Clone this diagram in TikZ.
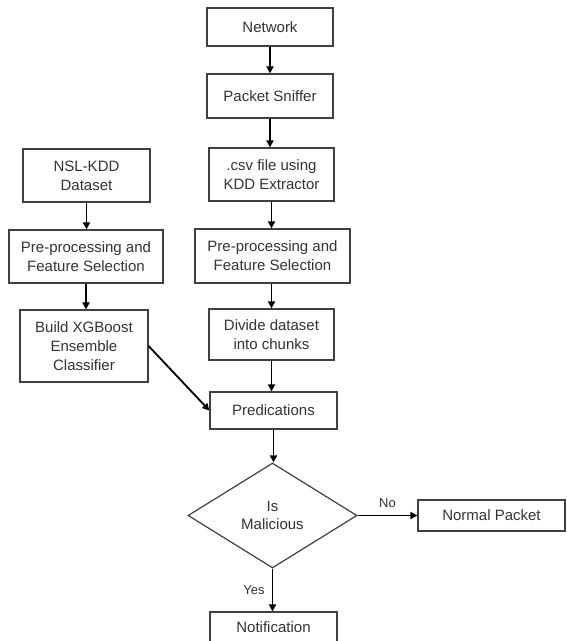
\documentclass[tikz,border=0pt]{standalone}
\usepackage{fontspec}
\setmainfont{Liberation Sans}
\usetikzlibrary{shapes.geometric,arrows.meta}
\definecolor{boxgray}{HTML}{404040}
\definecolor{textgray}{HTML}{333333}
\begin{document}
\begin{tikzpicture}[x=1pt,y=-1pt,
  box/.style={draw=boxgray, line width=1.2pt, fill=white, align=center, inner sep=0pt, text=textgray, font=\fontsize{15}{19}\selectfont},
  dia/.style={diamond, draw=boxgray, line width=1.2pt, align=center, inner sep=0pt, text=textgray, font=\fontsize{15}{18}\selectfont},
  arr/.style={line width=1.8pt, -{Triangle[length=7pt,width=7pt]}},
  lbl/.style={text=textgray, inner sep=0pt, font=\fontsize{13}{15}\selectfont}]
\clip (0,0) rectangle (566,641);
\fill[white] (0,0) rectangle (566,641);
% right column
\node[box, minimum width=126pt, minimum height=38pt] (net) at (270,27) {Network};
\node[box, minimum width=126pt, minimum height=44pt] (sniff) at (270,96) {Packet Sniffer};
\node[box, minimum width=125pt, minimum height=53pt] (csv) at (271.5,174.5) {.csv file using\\KDD Extractor};
\node[box, minimum width=155pt, minimum height=54pt] (rpre) at (272.5,256) {Pre-processing and\\Feature Selection};
\node[box, minimum width=125pt, minimum height=51pt] (div) at (271.5,334.5) {Divide dataset\\into chunks};
\node[box, minimum width=127pt, minimum height=37pt] (pred) at (273.5,410.5) {Predications};
% left column
\node[box, minimum width=127pt, minimum height=53pt] (nsl) at (86.5,175.5) {NSL-KDD\\Dataset};
\node[box, minimum width=154pt, minimum height=53pt] (lpre) at (86,256.5) {Pre-processing and\\Feature Selection};
\node[box, minimum width=128pt, minimum height=72pt] (xgb) at (84,346) {Build XGBoost\\Ensemble\\Classifier};
% decision
\node[dia, minimum width=169pt, minimum height=105pt] (mal) at (272.5,515.5) {Is\\Malicious};
\node[box, minimum width=147pt, minimum height=31pt] (norm) at (491.5,515.5) {Normal Packet};
\node[box, minimum width=127pt, minimum height=30pt] (notif) at (273.5,627) {Notification};
% connectors
\draw[arr] (net.south) -- (net.south |- sniff.north);
\draw[arr] (sniff.south) -- (sniff.south |- csv.north);
\draw[arr] (csv.south) -- (csv.south |- rpre.north);
\draw[arr] (div.north |- rpre.south) -- (div.north);
\draw[arr] (div.south) -- (div.south |- pred.north);
\draw[arr] (nsl.south) -- (nsl.south |- lpre.north);
\draw[arr] (lpre.south) -- (lpre.south |- xgb.north);
\draw[arr] (xgb.east) -- (pred.west);
\draw[arr] (pred.south) -- (pred.south |- mal.north);
\draw[arr] (mal.east) -- (mal.east -| norm.west) node[lbl, midway, above=7pt] (no) {No};
\draw[arr] (mal.south) -- (mal.south |- notif.north) node[lbl, midway, left=7pt] (yes) {Yes};
\end{tikzpicture}
\end{document}
